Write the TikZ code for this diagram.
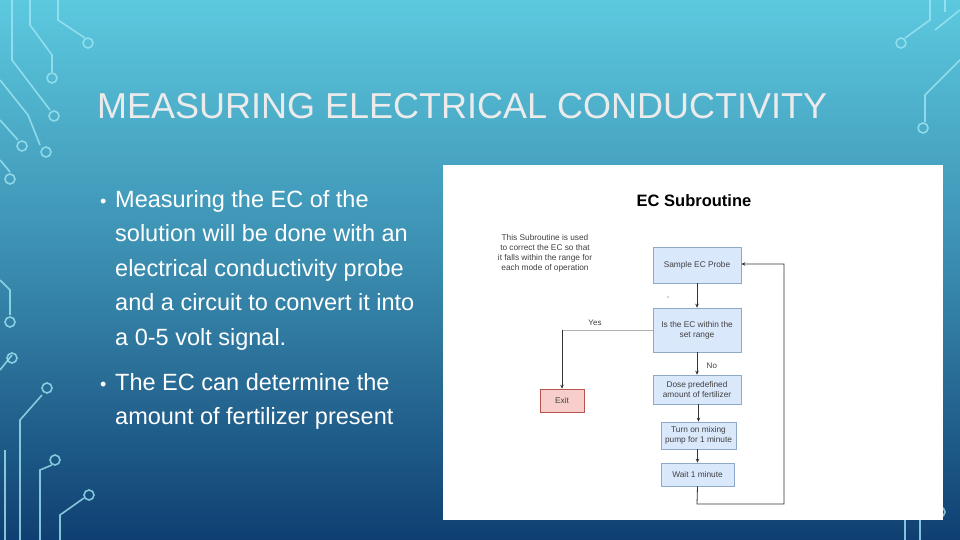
\documentclass[tikz,border=0pt]{standalone}
\usepackage{fontspec}
\setmainfont{Liberation Sans}
\usetikzlibrary{arrows.meta}
\definecolor{bgtop}{HTML}{5CC9DF}
\definecolor{bgbot}{HTML}{0F3F72}
\definecolor{boxfill}{HTML}{DAE8FC}
\definecolor{boxline}{HTML}{8FA9CC}
\definecolor{exitfill}{HTML}{F8CECC}
\definecolor{exitline}{HTML}{B85450}
\definecolor{circ}{HTML}{9FE6F2}
\begin{document}
\begin{tikzpicture}[x=1pt,y=-1pt,
  box/.style={draw=boxline,fill=boxfill,line width=0.6pt,inner sep=0pt,align=center,font=\fontsize{8.3}{10}\selectfont,text=black!75},
  arr/.style={-{Stealth[length=4pt,width=3.5pt]},line width=0.8pt,draw=black!80},
  circuit/.style={draw=circ,line width=1.6pt,opacity=0.8},
  pad/.style={circuit,fill=none}]
\useasboundingbox (0,0) rectangle (960,540);
\shade[top color=bgtop,bottom color=bgbot,middle color=bgtop!55!bgbot] (0,0) rectangle (960,540);
% circuit decorations left
\draw[circuit] (12,0) -- (12,60) -- (50,110);
\draw[pad] (54,116) circle (5);
\draw[circuit] (30,0) -- (30,25) -- (52,55) -- (52,72);
\draw[pad] (52,78) circle (5);
\draw[circuit] (58,0) -- (58,20) -- (85,38);
\draw[pad] (88,43) circle (5);
\draw[circuit] (0,120) -- (18,140);
\draw[pad] (22,146) circle (5);
\draw[circuit] (0,80) -- (28,115) -- (40,145);
\draw[pad] (46,152) circle (5);
\draw[circuit] (0,160) -- (10,172);
\draw[pad] (10,179) circle (5);
\draw[circuit] (0,280) -- (10,290) -- (10,315);
\draw[pad] (10,322) circle (5);
\draw[circuit] (0,370) -- (12,355);
\draw[pad] (12,358) circle (5);
\draw[circuit] (20,540) -- (20,420) -- (42,395);
\draw[pad] (47,388) circle (5);
\draw[circuit] (40,540) -- (40,470) -- (52,465);
\draw[pad] (55,460) circle (5);
\draw[circuit] (60,540) -- (60,515) -- (84,498);
\draw[pad] (89,495) circle (5);
\draw[circuit] (5,540) -- (5,450);
% right
\draw[circuit] (960,10) -- (935,30);
\draw[circuit] (930,0) -- (930,20) -- (905,38);
\draw[pad] (901,43) circle (5);
\draw[circuit] (960,60) -- (925,95) -- (925,122);
\draw[pad] (923,128) circle (5);
\draw[circuit] (945,0) -- (945,12);
\draw[circuit] (905,540) -- (905,515);
\draw[circuit] (920,540) -- (920,515);
\draw[pad] (940,512) circle (5);
% title & bullets
\node[anchor=west,text=white!92!black,font=\fontsize{36}{38}\selectfont,inner sep=0pt] (title) at (97,106) {MEASURING ELECTRICAL CONDUCTIVITY};
\node[anchor=north west,text=white,font=\fontsize{23.5}{34.5}\selectfont,align=left,inner sep=0pt] (b1) at (115,190)
 {Measuring the EC of the\\solution will be done with an\\electrical conductivity probe\\and a circuit to convert it into\\a 0-5 volt signal.};
\node[anchor=west,text=white,font=\fontsize{18}{24}\selectfont,inner sep=0pt] (d1) at (100,203) {\textbullet};
\node[anchor=north west,text=white,font=\fontsize{23.5}{34.5}\selectfont,align=left,inner sep=0pt] (b2) at (115,373)
 {The EC can determine the\\amount of fertilizer present};
\node[anchor=west,text=white,font=\fontsize{18}{24}\selectfont,inner sep=0pt] (d2) at (100,386) {\textbullet};
% flowchart panel
\fill[white] (443,165) rectangle (943,520);
\node[font=\bfseries\fontsize{16.5}{18}\selectfont] (ect) at (694,201) {EC Subroutine};
\node[align=center,font=\fontsize{8.3}{10}\selectfont,text=black!75] (note) at (545,253) {This Subroutine is used\\to correct the EC so that\\it falls within the range for\\each mode of operation};
\node[box,minimum width=88pt,minimum height=36pt] (s1) at (697,265) {Sample EC Probe};
\node[box,minimum width=88pt,minimum height=44pt] (s2) at (697,330) {Is the EC within the\\set range};
\node[box,minimum width=88pt,minimum height=29pt] (s3) at (697,389.5) {Dose predefined\\amount of fertilizer};
\node[box,minimum width=75pt,minimum height=27pt] (s4) at (698.5,435.5) {Turn on mixing\\pump for 1 minute};
\node[box,minimum width=73pt,minimum height=23pt] (s5) at (697.5,474.5) {Wait 1 minute};
\node[draw=exitline,fill=exitfill,line width=0.6pt,minimum width=44pt,minimum height=23pt,inner sep=0pt,font=\fontsize{8.3}{10}\selectfont,text=black!75] (exit) at (562,400.5) {Exit};
\fill[black!70] (668,297) circle (0.6);
\draw[arr] (s1) -- (s2);
\draw[arr] (s2) -- node[right,font=\fontsize{8}{9}\selectfont,text=black!75,pos=0.6,xshift=6pt] {No} (s3);
\draw[arr] (s3.south -| s4.north) -- (s4);
\draw[arr] (s4.south -| s5.north) -- (s5);
\coordinate (yc) at (exit.north |- s2.west);
\draw[line width=0.8pt,draw=black!30] (s2.west) -- (yc);
\node[font=\fontsize{8}{9}\selectfont,text=black!75] (yes) at (595,323) {Yes};
\draw[arr] (yc) -- (exit.north);
\coordinate (l1) at (697,504);
\coordinate (l2) at (784,504);
\coordinate (l3) at (784,264);
\draw[arr] (s5.south) -- (l1) -- (l2) -- (l3) -- (s1.east |- l3);
\end{tikzpicture}
\end{document}
